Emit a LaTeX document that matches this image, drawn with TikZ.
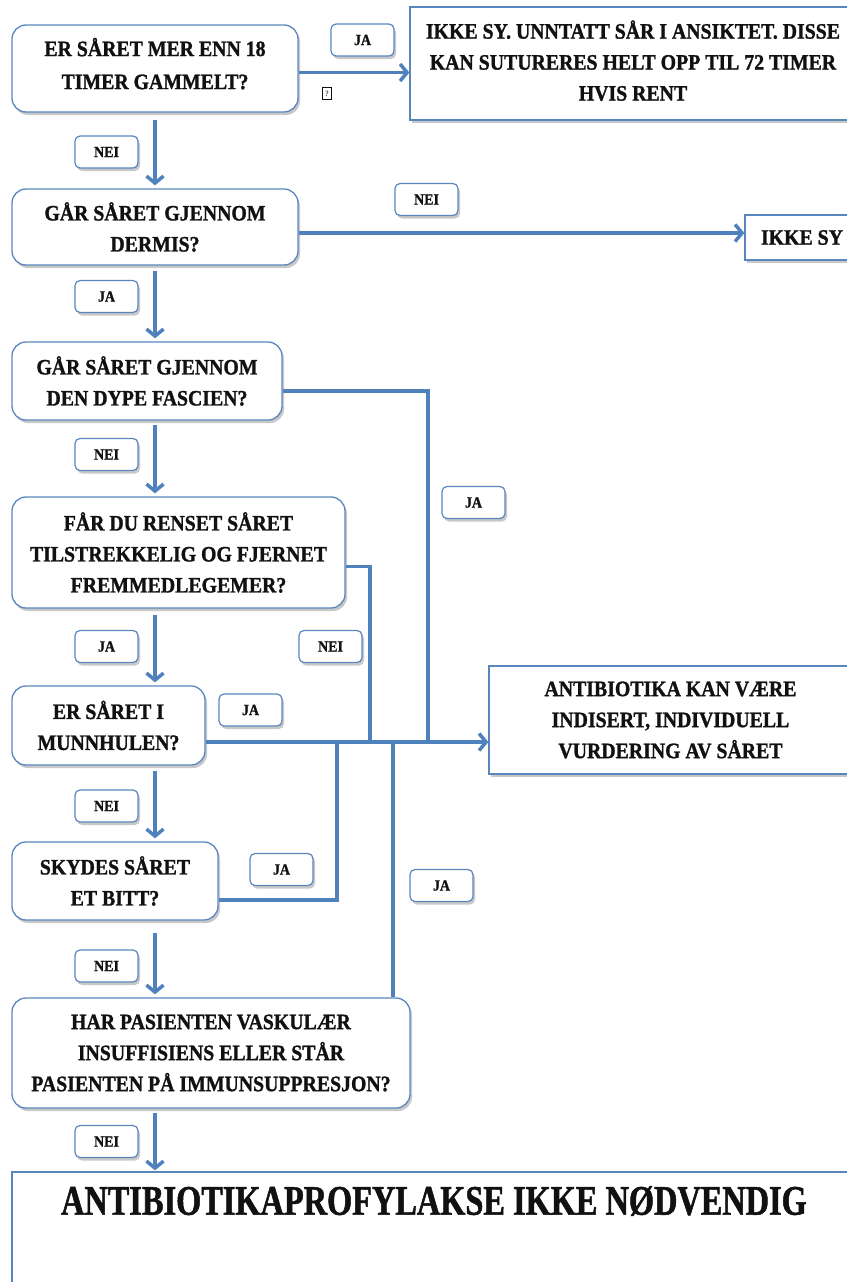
\documentclass[tikz,border=0pt]{standalone}
\usepackage{fontspec}
\setmainfont{Liberation Serif}
\newfontfamily\heavyfont[FakeStretch=0.9, FakeBold=1.2]{Liberation Serif}
\newfontfamily\condfont[FakeStretch=0.77, FakeBold=1.2]{Liberation Serif}
\usepackage{xcolor}
\usetikzlibrary{calc,arrows.meta,shadows}
\definecolor{bg}{HTML}{FFFFFF}
\definecolor{flow}{HTML}{4F81BD}
\definecolor{edge}{HTML}{5A86BF}
\definecolor{ink}{HTML}{111111}
\newcommand\qfont{\heavyfont\fontsize{22}{31}\selectfont\bfseries}
\newcommand\tagfont{\heavyfont\fontsize{15.5}{15.5}\selectfont\bfseries}
\newcommand\bigfont{\condfont\fontsize{42}{42}\selectfont\bfseries}
\tikzset{
  conn/.style={draw=flow, line width=3.5pt},
  arr/.style={conn, -{Straight Barb[length=7pt,width=17pt,line width=3.5pt]}},
  shade/.style={drop shadow={shadow xshift=2pt, shadow yshift=-3pt, opacity=0.3, fill=black!70}},
  qbox/.style={draw=edge, line width=1.3pt, fill=white, rounded corners=14pt, shade,
    align=center, inner sep=0pt, font=\qfont, text=ink},
  res/.style={draw=edge, line width=1.3pt, fill=white, shade,
    align=center, inner sep=0pt, font=\qfont, text=ink},
  tag/.style={draw=edge, line width=1.2pt, fill=white, rounded corners=5pt, shade,
    minimum width=63pt, minimum height=32pt, inner sep=0pt, font=\tagfont, text=ink}
}

\begin{document}
\begin{tikzpicture}[x=1pt,y=-1pt]
  \path[use as bounding box, fill=bg] (0,0) rectangle (846,1282);

  % questions
  \node[qbox, minimum width=286pt, minimum height=87pt] (q1) at (155,68.5) {ER SÅRET MER ENN 18\\[2pt]TIMER GAMMELT?\\[-21pt]};
  \node[qbox, minimum width=286pt, minimum height=76pt] (q2) at (155,227) {GÅR SÅRET GJENNOM\\DERMIS?};
  \node[qbox, minimum width=270pt, minimum height=78pt] (q3) at (147,381) {GÅR SÅRET GJENNOM\\DEN DYPE FASCIEN?};
  \node[qbox, minimum width=333pt, minimum height=111pt] (q4) at (178.5,552.5) {FÅR DU RENSET SÅRET\\TILSTREKKELIG OG FJERNET\\FREMMEDLEGEMER?};
  \node[qbox, minimum width=193pt, minimum height=79pt] (q5) at (108.5,725.5) {ER SÅRET I\\MUNNHULEN?};
  \node[qbox, minimum width=206pt, minimum height=78pt] (q6) at (115,881) {SKYDES SÅRET\\ET BITT?};
  \node[qbox, minimum width=398pt, minimum height=110pt] (q7) at (211,1053) {HAR PASIENTEN VASKULÆR\\INSUFFISIENS ELLER STÅR\\PASIENTEN PÅ IMMUNSUPPRESJON?};

  % outcomes
  \node[res, minimum width=446pt, minimum height=113pt] (sy1) at (633,63.5) {IKKE SY. UNNTATT SÅR I ANSIKTET. DISSE\\KAN SUTURERES HELT OPP TIL 72 TIMER\\HVIS RENT\\[-25pt]};
  \node[res, minimum width=114pt, minimum height=45pt] (sy2) at (802,237.5) {IKKE SY};
  \node[res, minimum width=363pt, minimum height=108pt] (abx) at (670.5,720) {ANTIBIOTIKA KAN VÆRE\\INDISERT, INDIVIDUELL\\VURDERING AV SÅRET};
  \node[res, minimum width=844pt, minimum height=140pt] (end) at (434,1242) {};
  \node[font=\bigfont, text=ink] (endtxt) at (434,1201) {ANTIBIOTIKAPROFYLAKSE IKKE NØDVENDIG};

  % answers
  \node[tag] (ja1) at (362.5,40) {JA};
  \node[tag] (nei1) at (106.5,152) {NEI};
  \node[tag] (nei2) at (426.5,199.5) {NEI};
  \node[tag] (ja2) at (106.5,296.5) {JA};
  \node[tag] (nei3) at (106.5,454.5) {NEI};
  \node[tag] (ja3) at (473.5,502.5) {JA};
  \node[tag] (ja4) at (106.5,646.5) {JA};
  \node[tag] (nei4) at (330.5,646.5) {NEI};
  \node[tag] (ja5) at (250.5,710) {JA};
  \node[tag] (nei5) at (106.5,806) {NEI};
  \node[tag] (ja6) at (281.5,869.5) {JA};
  \node[tag] (ja7) at (441.5,885.5) {JA};
  \node[tag] (nei6) at (106.5,966) {NEI};
  \node[tag] (nei7) at (106.5,1141.5) {NEI};
  \node[draw=ink, line width=0.5pt, minimum width=9pt, minimum height=12pt, inner sep=0pt,
    font=\fontsize{8}{8}\selectfont] (miss) at (327,93.5) {?};

  % connectors
  \coordinate (b6) at (337,742);
  \coordinate (b4) at (370,742);
  \coordinate (b7) at (393,742);
  \coordinate (b3) at (428,742);

  \draw[arr] ([yshift=-4pt]q1.east) -- ([yshift=-4pt]q1.east -| sy1.west);
  \draw[arr] ([yshift=-6pt]q2.east) -- ([yshift=-6pt]q2.east -| sy2.west);
  \draw[conn] ([yshift=-10pt]q3.east) -| (b3);
  \draw[conn] ([yshift=-14pt]q4.east) -| (b4);
  \draw[conn] ([yshift=-19pt]q6.east) -| (b6);
  \draw[conn] (b7 |- q7.north) -- (b7);
  \draw[arr] (q5.east |- b3) -- (abx.west |- b3);

  \draw[arr, shorten <=7pt, shorten >=3pt] (q1.south) -- (q2.north);
  \draw[arr, shorten <=5pt, shorten >=3pt] (q2.south) -- (q3.north -| q2.south);
  \draw[arr, shorten <=4pt, shorten >=3pt] (q3.south -| q1.south) -- (q4.north -| q1.south);
  \draw[arr, shorten <=6pt, shorten >=3pt] (q4.south -| q1.south) -- (q5.north -| q1.south);
  \draw[arr, shorten <=5pt, shorten >=3pt] (q5.south -| q1.south) -- (q6.north -| q1.south);
  \draw[arr, shorten <=12pt, shorten >=3pt] (q6.south -| q1.south) -- (q7.north -| q1.south);
  \draw[arr, shorten <=4pt, shorten >=1pt] (q7.south -| q1.south) -- (end.north -| q1.south);
\end{tikzpicture}
\end{document}
